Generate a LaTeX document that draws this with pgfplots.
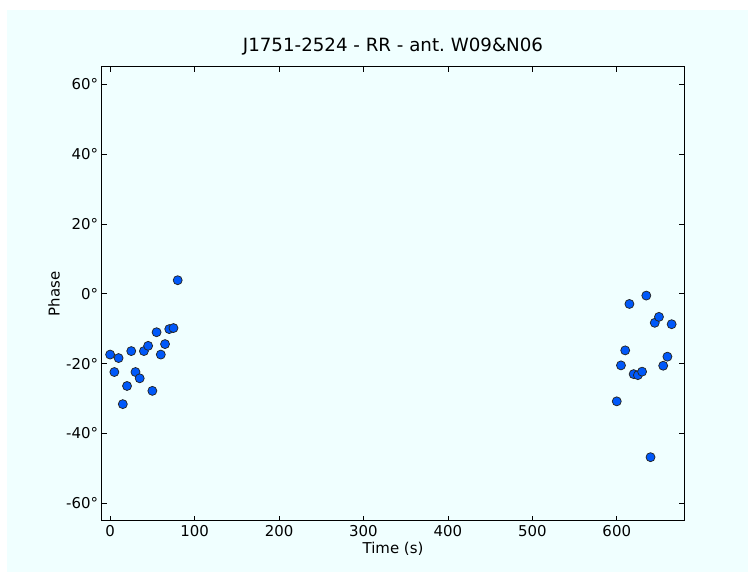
\documentclass[border=0pt]{standalone}
\usepackage{pgfplots}
\pgfplotsset{compat=1.18}
\usepackage{fontspec}
\setmainfont{DejaVu Sans}
\frenchspacing
\definecolor{bgcyan}{RGB}{240,255,255}
\definecolor{ptblue}{RGB}{0,88,250}
\begin{document}
\begin{tikzpicture}[x=1bp,y=1bp]
\fill[white] (0,0) rectangle (748,572);
\fill[bgcyan] (7,0) rectangle (748,562);
\begin{axis}[
  at={(101.7bp,51.3bp)}, anchor=south west,
  width=582.6bp, height=453.7bp, scale only axis,
  xmin=-10, xmax=680, ymin=-65, ymax=65,
  xtick={0,100,...,600},
  xticklabels={0,100,200,300,400,500,600},
  ytick={-60,-40,...,60},
  yticklabels={-60°,-40°,-20°,0°,20°,40°,60°},
  tick align=inside, major tick length=5bp,
  tick style={black, line width=0.7bp},
  axis line style={black, line width=1bp},
  ticklabel style={font=\fontsize{15}{18}\selectfont, text=black},
  xticklabel style={anchor=base, inner sep=0pt, yshift=-16.3bp},
  yticklabel style={anchor=east, inner sep=0pt, xshift=-3.4bp},
  title={J1751-2524 - RR - ant.\ W09\&N06},
  title style={font=\fontsize{18.3}{21}\selectfont, at={(axis description cs:0.5,1.022)}, anchor=base, inner sep=0pt},
  xlabel={Time (s)},
  xlabel style={font=\fontsize{15}{18}\selectfont, at={(axis description cs:0.5,-0.0727)}, anchor=base, inner sep=0pt},
  ylabel={Phase},
  ylabel style={font=\fontsize{15}{18}\selectfont, at={(axis description cs:-0.072,0.5)}, anchor=base, rotate=0, inner sep=0pt},
]
\addplot[only marks, mark=*, mark size=4.5bp, mark options={fill=ptblue, draw=black!85, line width=0.75bp}] coordinates {
(0,-17.4) (5,-22.4) (10,-18.4) (15,-31.6) (20,-26.4) (25,-16.4) (30,-22.4) (35,-24.2)
(40,-16.4) (45,-14.9) (50,-27.8) (55,-11.0) (60,-17.4) (65,-14.4) (70,-10.1) (75,-9.8) (80,3.9)
(600,-30.8) (605,-20.5) (610,-16.2) (615,-2.9) (620,-23.0) (625,-23.3) (630,-22.3)
(635,-0.5) (640,-46.8) (645,-8.3) (650,-6.6) (655,-20.6) (660,-18.0) (665,-8.7)
};
\end{axis}
\end{tikzpicture}
\end{document}
